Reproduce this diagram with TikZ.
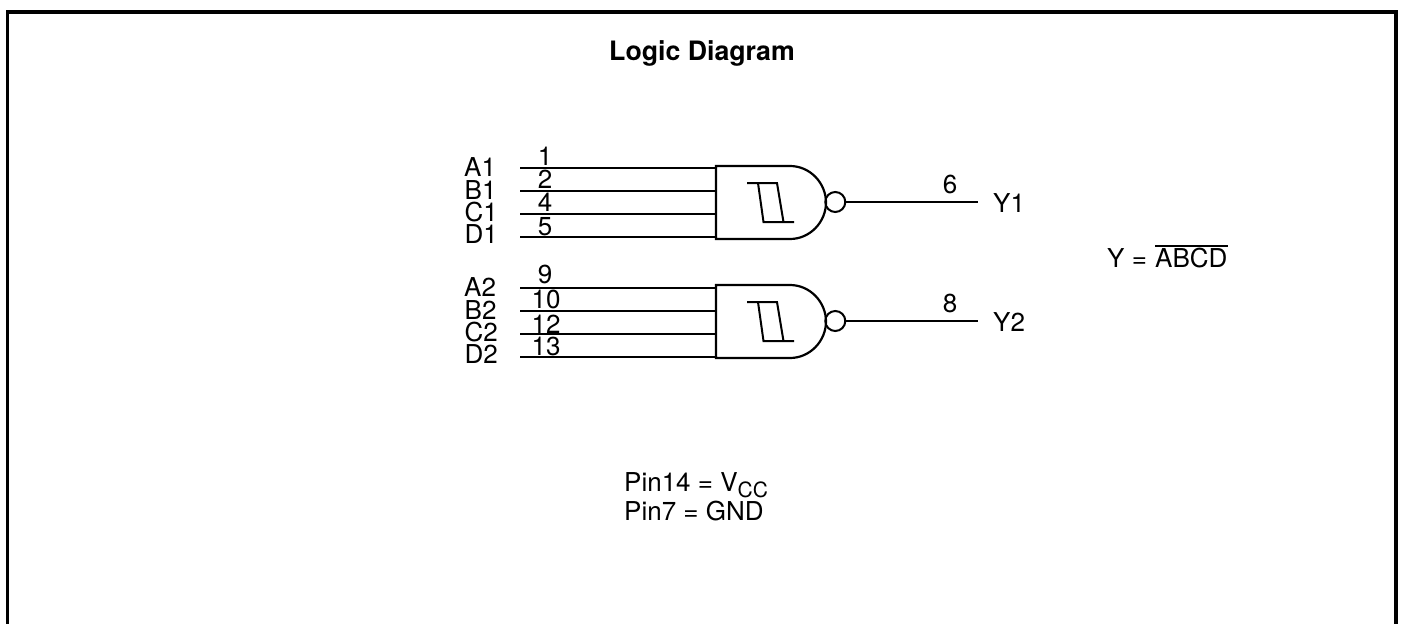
\documentclass[tikz,border=0pt]{standalone}
\usepackage{fontspec}
\setmainfont{TeX Gyre Heros}
\tikzset{
  wire/.style={line width=2pt,line cap=butt},
  gateline/.style={line width=2.2pt,line join=miter},
  frameline/.style={line width=3.8pt,line join=miter},
  lab/.style={anchor=base west,inner sep=0pt,font=\fontsize{26}{26}\selectfont},
  pinno/.style={anchor=base,inner sep=0pt,font=\fontsize{26}{26}\selectfont},
  titletext/.style={anchor=base,inner sep=0pt,font=\bfseries\fontsize{26.7}{27}\selectfont},
  bubble/.style={circle,draw,line width=2pt,minimum size=20pt,inner sep=0pt},
}
\begin{document}
\begin{tikzpicture}[x=1pt,y=-1pt]
\useasboundingbox (0,0) rectangle (1401,624);
\fill[white] (0,0) rectangle (1401,624);
\coordinate (fa) at (7.5,624);
\coordinate (fb) at (7.5,12);
\coordinate (fc) at (1396,12);
\coordinate (fd) at (1396,624);
\draw[frameline] (fa) -- (fb) -- (fc) -- (fd);
\node[titletext] (title) at (702,60) {Logic Diagram};

% gate 1
\coordinate (g1nw) at (716,166);
\coordinate (g1sw) at (716,239);
\coordinate (g1i1) at (716,168);
\coordinate (g1i2) at (716,191);
\coordinate (g1i3) at (716,214);
\coordinate (g1i4) at (716,237);
\coordinate (a1s) at (520,168);
\coordinate (b1s) at (520,191);
\coordinate (c1s) at (520,214);
\coordinate (d1s) at (520,237);
\draw[wire] (a1s) -- (g1i1);
\draw[wire] (b1s) -- (g1i2);
\draw[wire] (c1s) -- (g1i3);
\draw[wire] (d1s) -- (g1i4);
\draw[gateline] (g1sw) -- (g1nw) -- (790,166) .. controls (810,166) and (826,183) .. (826,202.5) .. controls (826,222) and (810,239) .. (790,239) -- cycle;
\node[bubble] (b1) at (835.3,202) {};
\coordinate (y1e) at (978,202);
\draw[wire] (b1.east) -- (y1e);
\draw[wire] (747,183) -- (777,183) -- (783.5,222);
\draw[wire] (758,183) -- (763.5,222) -- (794,222);

% gate 2
\coordinate (g2nw) at (716,285);
\coordinate (g2sw) at (716,358);
\coordinate (g2i1) at (716,288);
\coordinate (g2i2) at (716,311);
\coordinate (g2i3) at (716,334);
\coordinate (g2i4) at (716,357);
\coordinate (a2s) at (520,288);
\coordinate (b2s) at (520,311);
\coordinate (c2s) at (520,334);
\coordinate (d2s) at (520,357);
\draw[wire] (a2s) -- (g2i1);
\draw[wire] (b2s) -- (g2i2);
\draw[wire] (c2s) -- (g2i3);
\draw[wire] (d2s) -- (g2i4);
\draw[gateline] (g2sw) -- (g2nw) -- (790,285) .. controls (810,285) and (826,302) .. (826,321.5) .. controls (826,341) and (810,358) .. (790,358) -- cycle;
\node[bubble] (b2) at (835.3,321) {};
\coordinate (y2e) at (978,321);
\draw[wire] (b2.east) -- (y2e);
\draw[wire] (747,302) -- (777,302) -- (783.5,341);
\draw[wire] (758,302) -- (763.5,341) -- (794,341);

% input labels
\node[lab] (la1) at (464,176) {A1};
\node[lab] (lb1) at (464.5,199) {B1};
\node[lab] (lc1) at (464.5,221.5) {C1};
\node[lab] (ld1) at (464.5,243.5) {D1};
\node[lab] (la2) at (464,296) {A2};
\node[lab] (lb2) at (464.5,319) {B2};
\node[lab] (lc2) at (464.5,341.5) {C2};
\node[lab] (ld2) at (464.5,363) {D2};
% pin numbers
\node[pinno] (p1) at (545,165.5) {1};
\node[pinno] (p2) at (545,188) {2};
\node[pinno] (p4) at (545,211) {4};
\node[pinno] (p5) at (545,235.5) {5};
\node[pinno] (p9) at (545,283.5) {9};
\node[pinno] (p10) at (546,308) {10};
\node[pinno] (p12) at (546,333.5) {12};
\node[pinno] (p13) at (546,355.5) {13};
\node[pinno] (p6) at (950,193) {6};
\node[pinno] (p8) at (950,312) {8};
\node[lab] (y1) at (993,212.5) {Y1};
\node[lab] (y2) at (993,331.5) {Y2};

% equation
\node[lab] (eq) at (1107,267) {Y =};
\node[lab] (abcd) at (1155,267) {ABCD};
\draw[wire] (abcd.north west) ++(0,-1) coordinate (ol) -- (ol -| abcd.east);

% power
\node[lab] (pin14) at (624,491) {Pin14 = V\raisebox{-6pt}{\fontsize{21}{21}\selectfont CC}};
\node[lab] (pin7) at (624,520) {Pin7 = GND};
\end{tikzpicture}
\end{document}
